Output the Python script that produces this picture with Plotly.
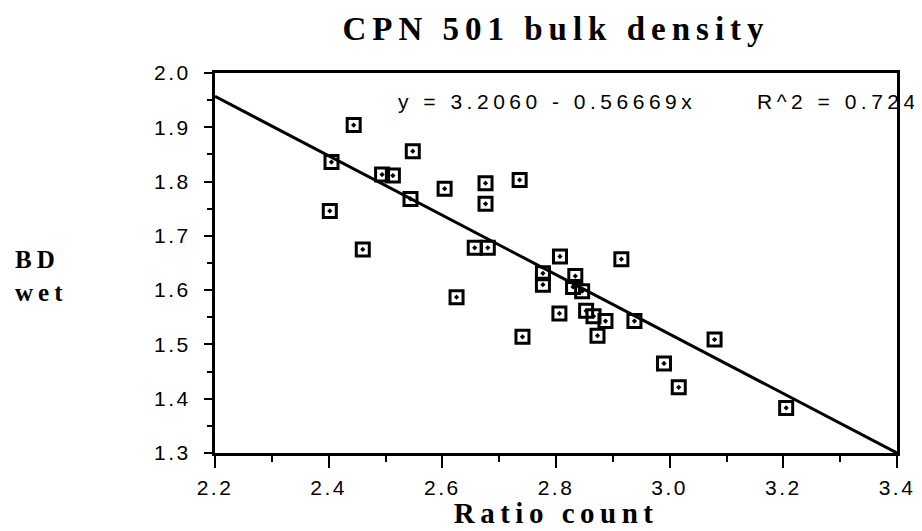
import plotly.graph_objects as go

# Data
ratio_count = [2.444, 2.405, 2.494, 2.513, 2.548, 2.544, 2.402, 2.460, 2.604, 2.676,
               2.676, 2.736, 2.657, 2.680, 2.807, 2.915, 2.777, 2.777, 2.625, 2.834,
               2.830, 2.846, 2.806, 2.853, 2.866, 2.887, 2.938, 2.873, 2.741, 2.990,
               3.016, 3.079, 3.205]
bd_wet = [1.904, 1.836, 1.813, 1.811, 1.856, 1.768, 1.746, 1.675, 1.787, 1.797,
          1.759, 1.803, 1.678, 1.678, 1.662, 1.657, 1.631, 1.610, 1.587, 1.626,
          1.606, 1.598, 1.557, 1.562, 1.552, 1.543, 1.543, 1.516, 1.514, 1.465,
          1.421, 1.509, 1.383]

# Fitted line as drawn (end points at the axis limits)
fit_x = [2.2, 3.4]
fit_y = [1.957, 1.300]

x_ticks = [2.2, 2.4, 2.6, 2.8, 3.0, 3.2, 3.4]
y_ticks = [1.3, 1.4, 1.5, 1.6, 1.7, 1.8, 1.9, 2.0]

equation_text = "y = 3.2060 - 0.56669x"
r2_text = "R^2 = 0.724"
title_text = "CPN 501 bulk density"
x_title = "Ratio count"
y_title_lines = ["BD", "wet"]

serif = "Liberation Serif, Times New Roman, serif"
sans = "Liberation Sans, Arial, sans-serif"

fig = go.Figure()
fig.add_trace(go.Scatter(
    x=fit_x, y=fit_y, mode="lines",
    line=dict(color="black", width=3), hoverinfo="skip", showlegend=False))
fig.add_trace(go.Scatter(
    x=ratio_count, y=bd_wet, mode="markers",
    marker=dict(symbol="square-open-dot", size=13, color="black",
                line=dict(color="black", width=3)),
    showlegend=False))

axis_common = dict(
    showgrid=False, zeroline=False, showline=True, linecolor="black",
    linewidth=3, mirror=True, ticks="outside", tickcolor="black",
    tickwidth=2, tickfont=dict(family=sans, size=21, color="black"),
    automargin=False,
)

fig.update_xaxes(
    range=[2.2, 3.4], tickvals=x_ticks, ticktext=[f"{v:.1f}" for v in x_ticks],
    ticklen=12, ticklabelstandoff=2,
    minor=dict(dtick=0.1, tick0=2.2, ticks="outside", ticklen=6, tickwidth=2, tickcolor="black"),
    **axis_common)
fig.update_yaxes(
    range=[1.3, 2.0], tickvals=y_ticks, ticktext=[f"{v:.1f}" for v in y_ticks],
    ticklen=8, ticklabelstandoff=9,
    minor=dict(dtick=0.05, tick0=1.3, ticks="outside", ticklen=5, tickwidth=2, tickcolor="black"),
    **axis_common)

# annotations: equation, R^2, y-axis title, x-axis title
fig.add_annotation(text=equation_text, xref="paper", yref="paper", x=0.265, y=0.925,
                   xanchor="left", yanchor="middle", align="left", showarrow=False,
                   font=dict(family=sans, size=21, color="black"))
fig.add_annotation(text=r2_text, xref="paper", yref="paper", x=0.792, y=0.925,
                   xanchor="left", yanchor="middle", align="left", showarrow=False,
                   font=dict(family=sans, size=21, color="black"))
fig.add_annotation(text=f"<b>{y_title_lines[0]}</b><br><b>{y_title_lines[1]}</b>",
                   xref="paper", yref="paper", x=-0.296, y=0.465,
                   xanchor="left", yanchor="middle", align="left", showarrow=False,
                   font=dict(family=serif, size=25, color="black"))
fig.add_annotation(text=f"<b>{x_title}</b>", xref="paper", yref="paper", x=0.5, y=-0.203,
                   xanchor="center", yanchor="bottom", align="center", showarrow=False,
                   borderpad=0, font=dict(family=serif, size=29, color="black"))

fig.update_layout(
    width=922, height=531,
    margin=dict(l=207, r=33, t=65, b=86),
    paper_bgcolor="white", plot_bgcolor="white",
    title=dict(text=f"<b>{title_text}</b>", x=0.5, xref="paper", y=0.962, yanchor="middle",
               font=dict(family=serif, size=33, color="black")),
)

# The reference lettering is widely spaced; emulate that with CSS letter-spacing
post_script = """
var gd = document.getElementById('{plot_id}');
function setSpacing(sel, v) {
  gd.querySelectorAll(sel).forEach(function (t) { t.style.letterSpacing = v; });
}
setSpacing('.gtitle', '6px');
setSpacing('.xtick text', '2.5px');
setSpacing('.ytick text', '2.5px');
var ann = gd.querySelectorAll('.annotation-text');
var sp = ['4.5px', '4.5px', '5px', '5.5px'];
ann.forEach(function (t, i) { t.style.letterSpacing = sp[i] || '4px'; });
"""

fig.write_html("out.html", post_script=post_script)
